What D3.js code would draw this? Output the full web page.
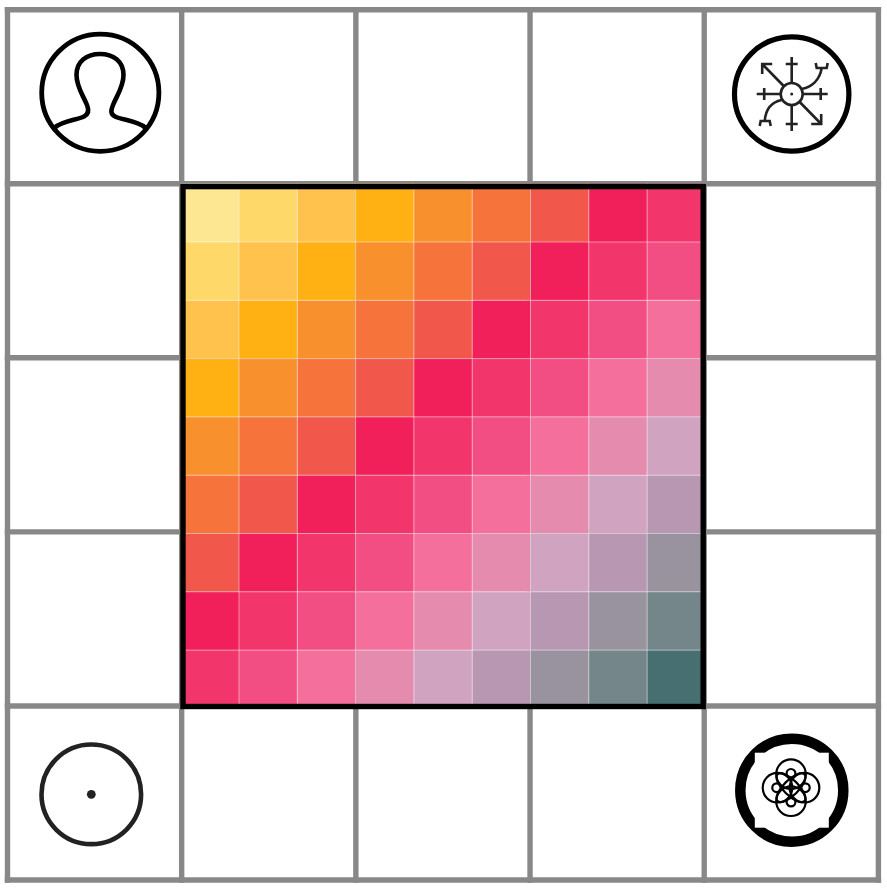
<!DOCTYPE html>
<html>
<head>
<meta charset="utf-8">
<title>Bivariate grid</title>
<script src="https://cdnjs.cloudflare.com/ajax/libs/d3/7.8.5/d3.min.js"></script>
<style>html,body{margin:0;padding:0;background:#fff}svg{display:block}</style>
</head>
<body>
<div id="chart"></div>
<script>
const rowCategories = [0, 1, 2, 3, 4, 5, 6, 7, 8];
const columnCategories = [0, 1, 2, 3, 4, 5, 6, 7, 8];
const row0 = [0, 1, 2, 3, 4, 5, 6, 7, 8];
const row1 = [1, 2, 3, 4, 5, 6, 7, 8, 9];
const row2 = [2, 3, 4, 5, 6, 7, 8, 9, 10];
const row3 = [3, 4, 5, 6, 7, 8, 9, 10, 11];
const row4 = [4, 5, 6, 7, 8, 9, 10, 11, 12];
const row5 = [5, 6, 7, 8, 9, 10, 11, 12, 13];
const row6 = [6, 7, 8, 9, 10, 11, 12, 13, 14];
const row7 = [7, 8, 9, 10, 11, 12, 13, 14, 15];
const row8 = [8, 9, 10, 11, 12, 13, 14, 15, 16];
const cellClasses = [row0, row1, row2, row3, row4, row5, row6, row7, row8];
const classDomain = [0, 1, 2, 3, 4, 5, 6, 7, 8, 9, 10, 11, 12, 13, 14, 15, 16];
const classColors = ["#FEE793", "#FFD86A", "#FFC24C", "#FFB013", "#F8912D", "#F6733C", "#F2574C",
  "#F1205A", "#F2366C", "#F34E83", "#F46F9B", "#E58BAE", "#D0A3C1", "#B897B3", "#99939F", "#748689", "#476E70"];
const gridColumns = [0, 1, 2, 3, 4, 5];
const gridRows = [0, 1, 2, 3, 4, 5];

const svg = d3.select("#chart").append("svg").attr("width", 887).attr("height", 889);

const gx = d3.scaleLinear().domain([0, 5]).range([7.5, 878.4]);
const gy = d3.scaleLinear().domain([0, 5]).range([9.7, 880]);
const x = d3.scaleBand().domain(columnCategories).range([180.7, 705.4]);
const y = d3.scaleBand().domain(rowCategories).range([183.7, 708.4]);
const color = d3.scaleOrdinal().domain(classDomain).range(classColors);

// outer grid of the 5 x 5 board
const grid = svg.append("g").attr("stroke", "#888").attr("stroke-width", 5.4).attr("stroke-linecap", "square");
grid.selectAll("line.v").data(gridColumns).join("line").attr("class", "v")
  .attr("x1", gx).attr("x2", gx).attr("y1", gy(0)).attr("y2", gy(5));
grid.selectAll("line.h").data(gridRows).join("line").attr("class", "h")
  .attr("y1", gy).attr("y2", gy).attr("x1", gx(0)).attr("x2", gx(5));

// heat cells
const cells = cellClasses.flatMap((r, i) => r.map((v, j) => ({ row: i, col: j, v })));
svg.append("g").selectAll("rect").data(cells).join("rect")
  .attr("x", d => x(d.col)).attr("y", d => y(d.row))
  .attr("width", x.bandwidth()).attr("height", y.bandwidth())
  .attr("fill", d => color(d.v));

// thin pale separators
const seps = svg.append("g").attr("stroke", "#fff").attr("stroke-opacity", 0.45).attr("stroke-width", 1);
seps.selectAll("line.v").data(columnCategories.slice(1)).join("line").attr("class", "v")
  .attr("x1", d => x(d)).attr("x2", d => x(d)).attr("y1", y.range()[0]).attr("y2", y.range()[1]);
seps.selectAll("line.h").data(rowCategories.slice(1)).join("line").attr("class", "h")
  .attr("y1", d => y(d)).attr("y2", d => y(d)).attr("x1", x.range()[0]).attr("x2", x.range()[1]);

// black frame
svg.append("rect").attr("x", 183).attr("y", 186.6).attr("width", 520.2).attr("height", 519.9)
  .attr("fill", "none").attr("stroke", "#000").attr("stroke-width", 5.4);

// person icon
const person = svg.append("g").attr("fill", "none").attr("stroke", "#000").attr("stroke-width", 4.8);
person.append("circle").attr("cx", 100.3).attr("cy", 92.7).attr("r", 58.6);
person.append("path").attr("stroke-width", 4.6).attr("stroke-linecap", "round")
  .attr("d", "M55,127.5 C62,121 77,120 84,116.5 C89,114 89,110 87,105 C83,95 76.5,87 76.5,75 C76.5,61 87,54 100,54 C113,54 123.5,61 123.5,75 C123.5,87 117,95 113,105 C111,110 110,114 115,116.5 C122,120 138,121 145,127.5");

// compass icon
const compass = svg.append("g").attr("transform", "translate(791.7,94)");
compass.append("circle").attr("r", 57.2).attr("fill", "none").attr("stroke", "#000").attr("stroke-width", 5.2);
const sym = compass.append("g").attr("fill", "none").attr("stroke", "#222").attr("stroke-width", 2.6);
sym.append("circle").attr("r", 11);
compass.append("circle").attr("r", 1.5).attr("fill", "#222");
sym.append("path").attr("d",
  "M0,-11 V-37 M-6,-30 H6 M0,11 V37 M-6,30 H6 M-11,0 H-35 M-27.5,-6 V6 M11,0 H36 M29,-6 V6" +
  " M-8,-8 L-29.5,-30 M-29.5,-20 V-30 H-19.5" +
  " M8,8 L29.5,30 M29.5,20 V30 H19.5" +
  " M10,-5 C20,-7 28,-14 30,-26 M24,-31 L25,-26 H35 L36,-31" +
  " M-10,6 C-20,8 -26,14 -27,27 M-32,32 L-31,27 H-22 L-21,32");

// dot icon
const dotIcon = svg.append("g").attr("transform", "translate(91.3,794.3)");
dotIcon.append("circle").attr("r", 49.8).attr("fill", "none").attr("stroke", "#222").attr("stroke-width", 4.6);
dotIcon.append("circle").attr("r", 4.4).attr("fill", "#222");

// knot icon
const knot = svg.append("g").attr("transform", "translate(791.8,790.2)");
knot.append("circle").attr("r", 51.5).attr("fill", "none").attr("stroke", "#000").attr("stroke-width", 10.5);
knot.append("rect").attr("x", -37).attr("y", -37.5).attr("width", 74).attr("height", 75).attr("fill", "#fff");
const inner = knot.append("g").attr("transform", "translate(-0.8,-2.5)").attr("fill", "none").attr("stroke", "#000").attr("stroke-width", 2.2);
[[0, -13.5], [0, 13.5], [-13.5, 0], [13.5, 0]].forEach(([dx, dy]) => {
  inner.append("circle").attr("cx", dx).attr("cy", dy).attr("r", 14.8);
  inner.append("circle").attr("cx", dx * 1.06).attr("cy", dy * 1.06).attr("r", 4.4);
});
[45, -45].forEach(a => inner.append("ellipse").attr("rx", 19).attr("ry", 7.5).attr("transform", `rotate(${a})`));
</script>
</body>
</html>
